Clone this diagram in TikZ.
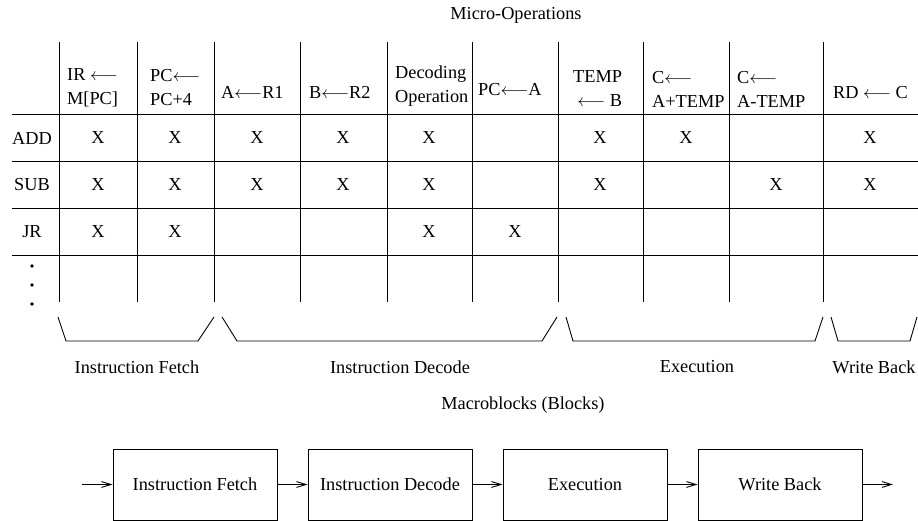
\documentclass[tikz,border=0pt]{standalone}
\usepackage{fontspec}
\setmainfont{Liberation Serif}
\usetikzlibrary{arrows.meta}
\tikzset{
    TXT/.style ={inner sep=0pt, font=\fontsize{18.3}{24}\selectfont},
    HD/.style ={TXT, anchor=west, align=left},
    BLK/.style ={rectangle, minimum width=164pt, minimum height=71pt, draw, line width=0.9pt, TXT},
    LN/.style ={line width=0.9pt},
    AR/.style ={-{Straight Barb[angle=34:10pt]}, line width=0.9pt}}

\begin{document}
\begin{tikzpicture}[x=1pt,y=-1pt]
        \useasboundingbox (0,0) rectangle (918,521);
        \node[TXT] (mo) at (516,15){Micro-Operations};
        % table rules
        \foreach \y in {114,161,208,255} \draw[LN] (12,\y) -- (918,\y);
        \foreach \x in {59,137,214,300,387,472,558,643,729,823} \draw[LN] (\x,42) -- (\x,302);
        % column heads
        \node[HD] (h1) at (67,88){IR $\longleftarrow$\\M[PC]};
        \node[HD] (h2) at (150,88){PC$\longleftarrow$\\PC+4};
        \node[HD] (h3) at (221,92){A$\longleftarrow$R1};
        \node[HD] (h4) at (309,92){B$\longleftarrow$R2};
        \node[HD] (h5) at (395,86){Decoding\\Operation};
        \node[HD] (h6) at (478,90){PC$\longleftarrow$A};
        \node[HD,align=right] (h7) at (573,89){TEMP\\$\longleftarrow$ B};
        \node[HD] (h8) at (652,89){C$\longleftarrow$\\A+TEMP};
        \node[HD] (h9) at (737,89){C$\longleftarrow$\\A-TEMP};
        \node[HD] (h10) at (833,93){RD $\longleftarrow$ C};
        % rows
        \node[TXT] (add) at (32,138){ADD};
        \node[TXT] (sub) at (32,185){SUB};
        \node[TXT] (jr) at (32,232){JR};
        \fill (32,266) circle (1.8) (32,285) circle (1.8) (32,304) circle (1.8);
        \foreach \x [count=\i] in {98,175,257,343,429,600,686,870}
            \node[TXT] (add\i) at (\x,138){X};
        \foreach \x [count=\i] in {98,175,257,343,429,600,776,870}
            \node[TXT] (sub\i) at (\x,185){X};
        \foreach \x [count=\i] in {98,175,429,515}
            \node[TXT] (jr\i) at (\x,232){X};
        % stage brackets
        \draw[LN] (58,317) -- (66,341) -- (198,341) -- (214,317);
        \draw[LN] (222,317) -- (237,341) -- (542,341) -- (557,317);
        \draw[LN] (566,317) -- (573,341) -- (815,341) -- (823,317);
        \draw[LN] (831,317) -- (838,341) -- (910,341) -- (917,317);
        \node[TXT] (s1) at (137,367){Instruction Fetch};
        \node[TXT] (s2) at (400,367){Instruction Decode};
        \node[TXT] (s3) at (697,367){Execution};
        \node[TXT] (s4) at (874,367){Write Back};
        % macroblocks
        \node[TXT] (mb) at (523,405){Macroblocks (Blocks)};
        \node[BLK] (b1) at (195,484.5){Instruction Fetch};
        \node[BLK] (b2) at (390,484.5){Instruction Decode};
        \node[BLK] (b3) at (585,484.5){Execution};
        \node[BLK] (b4) at (780,484.5){Write Back};
        \coordinate (in) at (82,484.5);
        \coordinate (out) at (893,484.5);
        \draw[AR] (in) -- (b1);
        \draw[AR] (b1) -- (b2);
        \draw[AR] (b2) -- (b3);
        \draw[AR] (b3) -- (b4);
        \draw[AR] (b4) -- (out);
    \end{tikzpicture}
\end{document}
